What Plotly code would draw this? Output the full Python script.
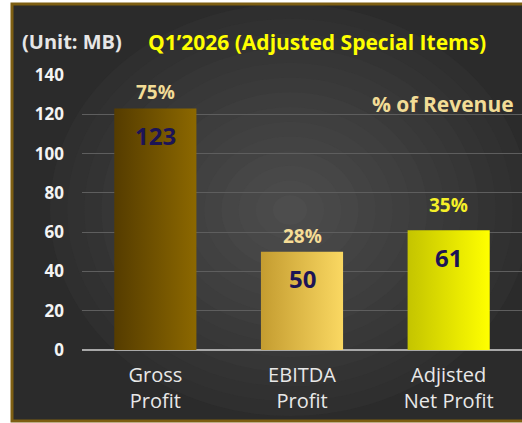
import plotly.graph_objects as go

categories = ["Gross<br>Profit", "EBITDA<br>Profit", "Adjisted<br>Net Profit"]
values = [123, 50, 61]
pct_labels = ["75%", "28%", "35%"]
y_ticks = [0, 20, 40, 60, 80, 100, 120, 140]

bar_grad = [("#553c00", "#8c6800"), ("#c49c30", "#fad862"), ("#c4c400", "#ffff00")]
pct_colors = ["#f2dc96", "#f5dc96", "#f5f028"]
pct_shift = [16, 16, 25]
half_w = 0.28
FONT = "Open Sans, Liberation Sans, Arial"

W, H = 522, 423
ML, MR, MT, MB = 82, 0, 75, 73
PW, PH = W - ML - MR, H - MT - MB


def px(xp):
    return (xp - ML) / PW


def py(yp):
    return (H - MB - yp) / PH


fig = go.Figure()

bx0, bx1, by0, by1 = px(12), px(530), py(421), py(4)
shapes = [dict(type="rect", xref="paper", yref="paper", x0=bx0, x1=bx1, y0=by0, y1=by1,
               fillcolor="#2b2b2b", line=dict(width=0), layer="below")]
cx, cy = px(290), py(210)
rx_max = min(cx - bx0, bx1 - cx)
ry_max = min(cy - by0, by1 - cy)
n = 14
for k in range(n):
    f = 1 - k / n
    g = int(0x2d + (0x4d - 0x2d) * (k + 1) / n)
    col = "#%02x%02x%02x" % (g, g, g)
    shapes.append(dict(type="circle", xref="paper", yref="paper",
                       x0=cx - rx_max * f, x1=cx + rx_max * f, y0=cy - ry_max * f, y1=cy + ry_max * f,
                       fillcolor=col, line=dict(width=0), layer="below"))
shapes.append(dict(type="rect", xref="paper", yref="paper", x0=bx0, x1=bx1, y0=by0, y1=by1,
                   fillcolor="rgba(0,0,0,0)", line=dict(color="#7d5e12", width=3), layer="below"))

for i, v in enumerate(values):
    c0, c1 = bar_grad[i]
    fig.add_trace(go.Scatter(
        x=[i - half_w, i + half_w, i + half_w, i - half_w, i - half_w],
        y=[0, 0, v, v, 0],
        mode="lines", fill="toself", line=dict(width=0),
        fillgradient=dict(type="horizontal", colorscale=[[0, c0], [1, c1]]),
        hoverinfo="skip", showlegend=False))

annotations = []
for i, v in enumerate(values):
    annotations.append(dict(x=i, y=v, xref="x", yref="y", text="<b>%d</b>" % v, showarrow=False,
                            yanchor="middle", yshift=-27,
                            font=dict(family=FONT, size=24, color="#1c1456")))
    annotations.append(dict(x=i, y=v, xref="x", yref="y", text="<b>%s</b>" % pct_labels[i], showarrow=False,
                            yanchor="middle", yshift=pct_shift[i],
                            font=dict(family=FONT, size=19, color=pct_colors[i])))

annotations.append(dict(x=px(20), y=py(42), xref="paper", yref="paper", text="<b>(Unit: MB)</b>",
                        showarrow=False, xanchor="left", yanchor="middle",
                        font=dict(family=FONT, size=20, color="#e6e6e6")))
annotations.append(dict(x=px(146), y=py(42), xref="paper", yref="paper",
                        text="<b>Q1\u20192026 (Adjusted Special Items)</b>",
                        showarrow=False, xanchor="left", yanchor="middle",
                        font=dict(family=FONT, size=21, color="#ffff00")))
annotations.append(dict(x=px(443), y=py(104), xref="paper", yref="paper", text="<b>% of Revenue</b>",
                        showarrow=False, xanchor="center", yanchor="middle",
                        font=dict(family=FONT, size=21, color="#f2dc96")))

fig.update_layout(
    width=W, height=H,
    margin=dict(l=ML, r=MR, t=MT, b=MB),
    paper_bgcolor="white", plot_bgcolor="rgba(0,0,0,0)",
    shapes=shapes, annotations=annotations, showlegend=False,
    xaxis=dict(range=[-0.5, 2.5], tickvals=list(range(len(categories))), ticktext=categories,
               showgrid=False, zeroline=False, showline=False, ticks="", fixedrange=True,
               ticklabelstandoff=11,
               tickfont=dict(family=FONT, size=20, color="#e8e8e8")),
    yaxis=dict(range=[0, 140], tickvals=y_ticks, ticktext=["<b>%d</b>" % t for t in y_ticks],
               showgrid=True, gridcolor="#5e5e5e", gridwidth=1, fixedrange=True,
               zeroline=True, zerolinecolor="#a8a8a8", zerolinewidth=2,
               showline=False, ticks="", ticklabelstandoff=17,
               tickfont=dict(family=FONT, size=17, color="#f4f4f4")),
)

fig.write_html("out.html", config={"displayModeBar": False},
               post_script="document.body.style.margin='0';")
